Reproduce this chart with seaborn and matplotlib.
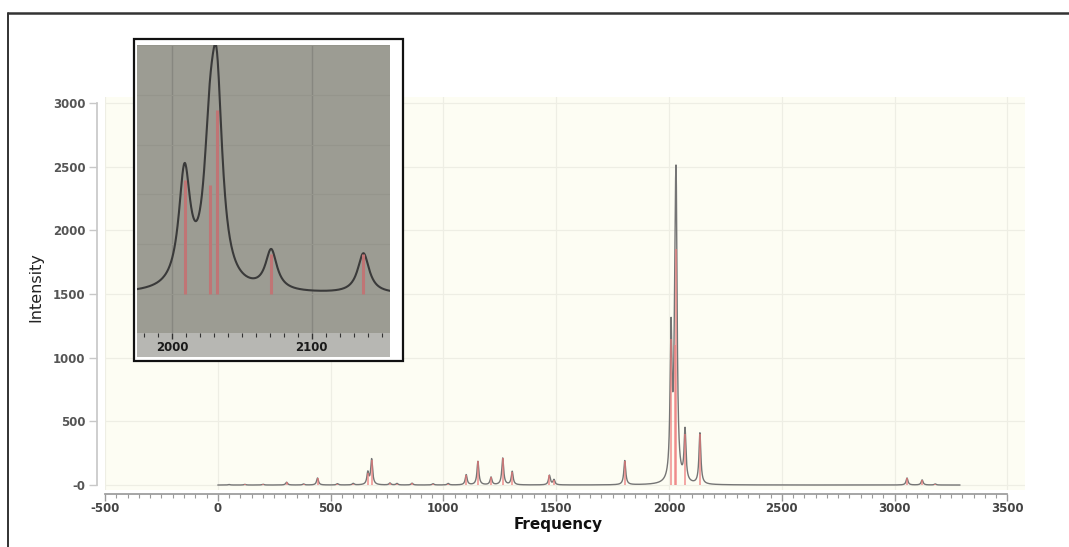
import numpy as np
import pandas as pd
import matplotlib
matplotlib.use("Agg")
import matplotlib.pyplot as plt
import seaborn as sns
from matplotlib.patches import Rectangle
from matplotlib.lines import Line2D
from matplotlib.ticker import MultipleLocator, FixedLocator, FixedFormatter

# ---- data ----
stick_freq = [50, 120, 200, 305, 380, 442, 530, 600, 665, 682, 763, 794, 861, 954,
              1021, 1101, 1153, 1211, 1263, 1305, 1470, 1490, 1804, 2009, 2027, 2032,
              2071, 2137, 3055, 3122, 3180]
stick_int = [4, 5, 6, 22, 8, 55, 10, 12, 95, 200, 15, 12, 14, 10,
             12, 80, 185, 60, 210, 105, 75, 40, 190, 1150, 1100, 1850,
             400, 400, 55, 40, 8]
hwhm = 5.0                 # Lorentzian half width used for the envelope
freq_start, freq_end = 0, 3290

x_ticks = [-500, 0, 500, 1000, 1500, 2000, 2500, 3000, 3500]
x_minor_step = 50
y_ticks = [0, 500, 1000, 1500, 2000, 2500, 3000]
y_tick_labels = ["-0", "500", "1000", "1500", "2000", "2500", "3000"]
inset_ticks = [2000, 2100]

# ---- envelope built from the sticks ----
grid = np.arange(freq_start, freq_end + 0.25, 0.25)
env = np.zeros_like(grid, dtype=float)
for f, I in zip(stick_freq, stick_int):
    env += I / (1.0 + ((grid - f) / hwhm) ** 2)
df = pd.DataFrame({"Frequency": grid, "Intensity": env})

sns.set_theme(style="white")
plt.rcParams['font.family'] = ['DejaVu Sans']
plt.rcParams['axes.unicode_minus'] = False

W, H = 1069, 547
fig = plt.figure(figsize=(W / 100, H / 100), dpi=100)


def px_axes(x0, y0, x1, y1):
    return [x0 / W, 1 - y1 / H, (x1 - x0) / W, (y1 - y0) / H]


# ---- main axes ----
ax = fig.add_axes(px_axes(105, 97, 1025, 490))
ax.set_facecolor("#FDFDF3")
ax.grid(True, color="#EEEEE4", lw=0.9)
ax.set_axisbelow(True)

sns.lineplot(data=df, x="Frequency", y="Intensity", ax=ax, color="#757575",
             lw=1.0, estimator=None, errorbar=None, zorder=3)
ax.vlines(stick_freq, 0, stick_int, color="#EE7A7A", lw=1.3, alpha=0.7, zorder=4)

ax.set_xlim(-500, 3578)
ax.set_ylim(-39, 3047)
ax.xaxis.set_major_locator(FixedLocator(x_ticks))
ax.xaxis.set_minor_locator(FixedLocator(np.arange(x_ticks[0], x_ticks[-1] + 1, x_minor_step)))
ax.yaxis.set_major_locator(FixedLocator(y_ticks))
ax.yaxis.set_major_formatter(FixedFormatter(y_tick_labels))

for s in ["top", "right"]:
    ax.spines[s].set_visible(False)
ax.spines["left"].set_position(("outward", 6))
ax.spines["left"].set_bounds(0, 3000)
ax.spines["left"].set_color("#C8C8C8")
ax.spines["bottom"].set_position(("outward", 3))
ax.spines["bottom"].set_bounds(-500, 3500)
ax.spines["bottom"].set_color("#9A9A9A")

ax.tick_params(axis="x", which="major", direction="out", length=5, width=1,
               color="#9A9A9A", labelsize=8.5, labelcolor="#444444", pad=1, bottom=True)
ax.tick_params(axis="x", which="minor", direction="out", length=3, width=0.8,
               color="#9A9A9A", bottom=True)
ax.tick_params(axis="y", which="major", direction="out", length=6, width=1,
               color="#C8C8C8", labelsize=8.5, labelcolor="#555555", pad=2, left=True)
for lab in ax.get_xticklabels() + ax.get_yticklabels():
    lab.set_fontweight("bold")
ax.set_xlabel("")
ax.set_ylabel("")

fig.text(558 / W, 1 - 524 / H, "Frequency", ha="center", va="center",
         fontsize=11, fontweight="bold", color="#111111")
fig.text(36 / W, 1 - 287 / H, "Intensity", ha="center", va="center", rotation=90,
         fontsize=11.5, color="#222222", family=["Liberation Sans Narrow", "DejaVu Sans"])

# ---- inset box ----
box = Rectangle((134 / W, 1 - 361 / H), (403 - 134) / W, (361 - 39) / H,
                transform=fig.transFigure, facecolor="white", edgecolor="#111111",
                lw=1.6, zorder=1)
fig.add_artist(box)
band = Rectangle((137 / W, 1 - 357 / H), (390 - 137) / W, (357 - 333) / H,
                 transform=fig.transFigure, facecolor="#B7B7B3", edgecolor="none",
                 zorder=1.5)
fig.add_artist(band)

axi = fig.add_axes(px_axes(137, 45, 390, 333))
axi.set_zorder(2)
axi.set_facecolor("#9C9C93")
axi.grid(True, axis="x", color="#878780", lw=1.0)
axi.grid(True, axis="y", color="#95958C", lw=0.8)
axi.set_axisbelow(True)
sns.lineplot(data=df, x="Frequency", y="Intensity", ax=axi, color="#3A3A3A",
             lw=1.5, estimator=None, errorbar=None, zorder=3)
axi.vlines(stick_freq, 0, stick_int, color="#C07575", lw=2.2, zorder=4)
axi.set_xlim(1975, 2156)
axi.set_ylim(-390, 2500)
axi.xaxis.set_major_locator(FixedLocator(inset_ticks))
axi.xaxis.set_minor_locator(MultipleLocator(10))
axi.yaxis.set_major_locator(MultipleLocator(500))
for s in axi.spines.values():
    s.set_visible(False)
axi.tick_params(axis="x", which="major", direction="out", length=4, width=1,
                color="#333333", labelsize=8.5, labelcolor="#1A1A1A", pad=2, bottom=True)
axi.tick_params(axis="x", which="minor", direction="out", length=3, width=0.8,
                color="#333333", bottom=True)
axi.tick_params(axis="y", left=False, labelleft=False)
for lab in axi.get_xticklabels():
    lab.set_fontweight("bold")
axi.set_xlabel("")
axi.set_ylabel("")

# ---- outer frame ----
fig.add_artist(Line2D([8 / W, 8 / W], [0, 1 - 13 / H], transform=fig.transFigure,
                      color="#222222", lw=1.3))
fig.add_artist(Line2D([8 / W, 1], [1 - 13 / H, 1 - 13 / H], transform=fig.transFigure,
                      color="#333333", lw=1.8))

fig.savefig("out.png", dpi=100)
